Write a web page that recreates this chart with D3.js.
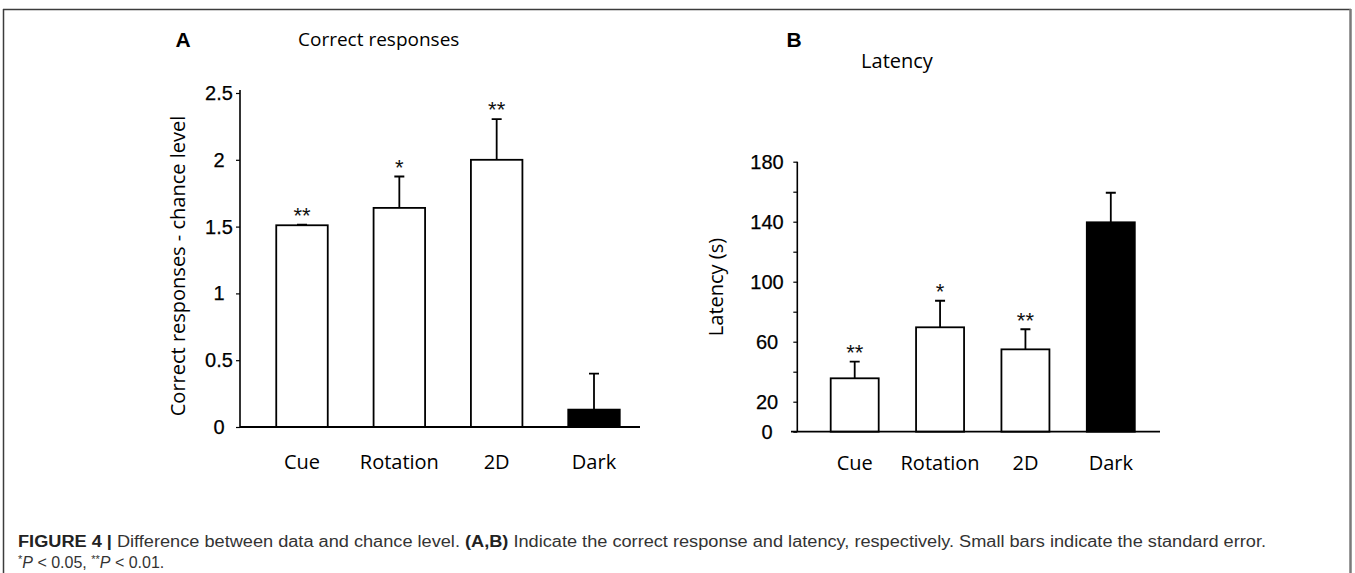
<!DOCTYPE html>
<html>
<head>
<meta charset="utf-8">
<script src="https://cdn.jsdelivr.net/npm/d3@7"></script>
<style>
  html, body { margin: 0; padding: 0; background: #fff; }
  svg { display: block; }
</style>
</head>
<body>
<svg id="chart" width="1355" height="573"></svg>
<script>
// ---- data ----
const categories = ["Cue", "Rotation", "2D", "Dark"];
const correctValues = [1.51, 1.64, 2.0, 0.13];
const correctErrors = [0.005, 0.235, 0.305, 0.27];
const correctStars = ["**", "*", "**", ""];
const correctTicks = [0, 0.5, 1, 1.5, 2, 2.5];
const correctTickLabels = ["0", "0.5", "1", "1.5", "2", "2.5"];

const latencyValues = [35.6, 69.6, 54.9, 139.6];
const latencyErrors = [11.1, 17.7, 13.4, 19.7];
const latencyStars = ["**", "*", "**", ""];
const latencyTicks = [0, 20, 60, 100, 140, 180];
const latencyMinorTicks = [0, 20, 40, 60, 80, 100, 120, 140, 160, 180];
const barFills = ["#fff", "#fff", "#fff", "#000"];

const svg = d3.select("#chart");
const FONT = "'Open Sans', 'DejaVu Sans', sans-serif";
const NUMFONT = "'Liberation Sans', Arial, sans-serif";

// ---- frame ----
svg.append("line").attr("x1", 3).attr("x2", 1351).attr("y1", 9.5).attr("y2", 9.5)
  .attr("stroke", "#3c3c3c").attr("stroke-width", 1.5);
svg.append("line").attr("x1", 3.5).attr("x2", 3.5).attr("y1", 9).attr("y2", 600)
  .attr("stroke", "#3c3c3c").attr("stroke-width", 1.5);
svg.append("line").attr("x1", 1350.5).attr("x2", 1350.5).attr("y1", 9).attr("y2", 600)
  .attr("stroke", "#7a7a7a").attr("stroke-width", 2.5);

function panel(opts) {
  const g = svg.append("g");
  const y = d3.scaleLinear().domain(opts.domain).range([opts.y0, opts.y1]);
  const x = d3.scalePoint().domain(categories).range(opts.xr);

  // y axis line + minor ticks (left)
  const ax = d3.axisLeft(y).tickValues(opts.minor).tickSize(4).tickFormat("");
  const axg = g.append("g").attr("transform", `translate(${opts.axisX},0)`).call(ax);
  axg.select(".domain").attr("stroke", "#000").attr("stroke-width", 1.6)
    .attr("d", `M0,${y(opts.domain[0])}V${opts.axisTop}`);
  axg.selectAll(".tick line").attr("stroke", "#000").attr("stroke-width", 1.2);

  // tick labels
  g.selectAll("text.tl").data(opts.ticks).join("text")
    .attr("class", "tl")
    .attr("x", opts.labelX)
    .attr("y", d => y(d) + 7)
    .attr("text-anchor", "middle")
    .attr("font-family", NUMFONT)
    .attr("font-size", 20)
    .attr("fill", "#000")
    .attr("stroke", "#000").attr("stroke-width", 0.25)
    .text((d, i) => opts.tickLabels[i]);

  // bars
  g.selectAll("rect.bar").data(opts.values).join("rect")
    .attr("class", "bar")
    .attr("x", (d, i) => x(categories[i]) - opts.bw / 2)
    .attr("width", opts.bw)
    .attr("y", d => y(d))
    .attr("height", d => y(0) - y(d))
    .attr("fill", (d, i) => barFills[i])
    .attr("stroke", "#000")
    .attr("stroke-width", 1.8);

  // error bars
  g.selectAll("path.err").data(opts.values).join("path")
    .attr("class", "err")
    .attr("d", (d, i) => {
      const cx = x(categories[i]);
      const top = y(d + opts.errors[i]);
      return `M${cx},${y(d)}V${top}M${cx - 5},${top}H${cx + 5}`;
    })
    .attr("stroke", "#000").attr("stroke-width", 1.8).attr("fill", "none");

  // stars
  g.selectAll("text.star").data(opts.values).join("text")
    .attr("class", "star")
    .attr("x", (d, i) => x(categories[i]))
    .attr("y", (d, i) => y(d + opts.errors[i]) - opts.starGap + 12)
    .attr("text-anchor", "middle")
    .attr("font-family", NUMFONT)
    .attr("font-size", 22)
    .attr("fill", "#111")
    .text((d, i) => opts.stars[i]);

  // baseline
  g.append("line").attr("x1", opts.baseX0).attr("x2", opts.baseX1)
    .attr("y1", y(0)).attr("y2", y(0))
    .attr("stroke", "#000").attr("stroke-width", 1.8);

  // category labels
  g.selectAll("text.cat").data(categories).join("text")
    .attr("class", "cat")
    .attr("x", d => x(d))
    .attr("y", opts.catY)
    .attr("text-anchor", "middle")
    .attr("font-family", FONT)
    .attr("font-size", 20)
    .attr("fill", "#000")
    .text(d => d);

  // y title
  g.append("text")
    .attr("transform", `translate(${opts.titleX},${opts.titleY}) rotate(-90)`)
    .attr("text-anchor", "middle")
    .attr("font-family", FONT)
    .attr("font-size", 20)
    .attr("fill", "#000")
    .text(opts.yTitle);
}

panel({
  domain: [0, 2.5], y0: 427, y1: 93, axisX: 240, axisTop: 90,
  xr: [302, 594], bw: 51.5,
  values: correctValues, errors: correctErrors, stars: correctStars,
  ticks: correctTicks, tickLabels: correctTickLabels, minor: correctTicks,
  labelX: 219, starGap: 14,
  baseX0: 240, baseX1: 640, catY: 469,
  titleX: 185, titleY: 266, yTitle: "Correct responses - chance level"
});

panel({
  domain: [0, 180], y0: 431.7, y1: 161.7, axisX: 797.3, axisTop: 161.7,
  xr: [854.7, 1110.8], bw: 48,
  values: latencyValues, errors: latencyErrors, stars: latencyStars,
  ticks: latencyTicks, tickLabels: latencyTicks.map(String), minor: latencyMinorTicks,
  labelX: 767, starGap: 13.5,
  baseX0: 791, baseX1: 1160, catY: 470,
  titleX: 723, titleY: 287, yTitle: "Latency (s)"
});

// panel letters and titles
svg.append("text").attr("x", 183).attr("y", 47).attr("text-anchor", "middle")
  .attr("font-family", NUMFONT).attr("font-weight", "bold").attr("font-size", 21).text("A");
svg.append("text").attr("x", 794).attr("y", 47).attr("text-anchor", "middle")
  .attr("font-family", NUMFONT).attr("font-weight", "bold").attr("font-size", 21).text("B");
svg.append("text").attr("x", 298).attr("y", 46).attr("font-family", FONT)
  .attr("font-size", 19).attr("fill", "#000").text("Correct responses");
svg.append("text").attr("x", 897).attr("y", 68).attr("text-anchor", "middle").attr("font-family", FONT)
  .attr("font-size", 20).attr("fill", "#000").text("Latency");

// caption
const CAPFONT = "'Liberation Sans Narrow', 'Liberation Sans', Arial, sans-serif";
const cap1 = svg.append("text").attr("x", 18).attr("y", 547)
  .attr("font-family", CAPFONT).attr("font-size", 16).attr("fill", "#333")
  .attr("textLength", 1248).attr("lengthAdjust", "spacingAndGlyphs");
cap1.append("tspan").attr("font-weight", "bold").attr("fill", "#222").text("FIGURE 4 | ");
cap1.append("tspan").text("Difference between data and chance level. ");
cap1.append("tspan").attr("font-weight", "bold").attr("fill", "#222").text("(A,B)");
cap1.append("tspan").text(" Indicate the correct response and latency, respectively. Small bars indicate the standard error.");

const cap2 = svg.append("text").attr("x", 18).attr("y", 568)
  .attr("font-family", CAPFONT).attr("font-size", 16).attr("fill", "#333");
cap2.append("tspan").attr("font-size", 11).attr("dy", -5).text("*");
cap2.append("tspan").attr("font-style", "italic").attr("dy", 5).text("P");
cap2.append("tspan").text(" < 0.05, ");
cap2.append("tspan").attr("font-size", 11).attr("dy", -5).text("**");
cap2.append("tspan").attr("font-style", "italic").attr("dy", 5).text("P");
cap2.append("tspan").text(" < 0.01.");
</script>
</body>
</html>
